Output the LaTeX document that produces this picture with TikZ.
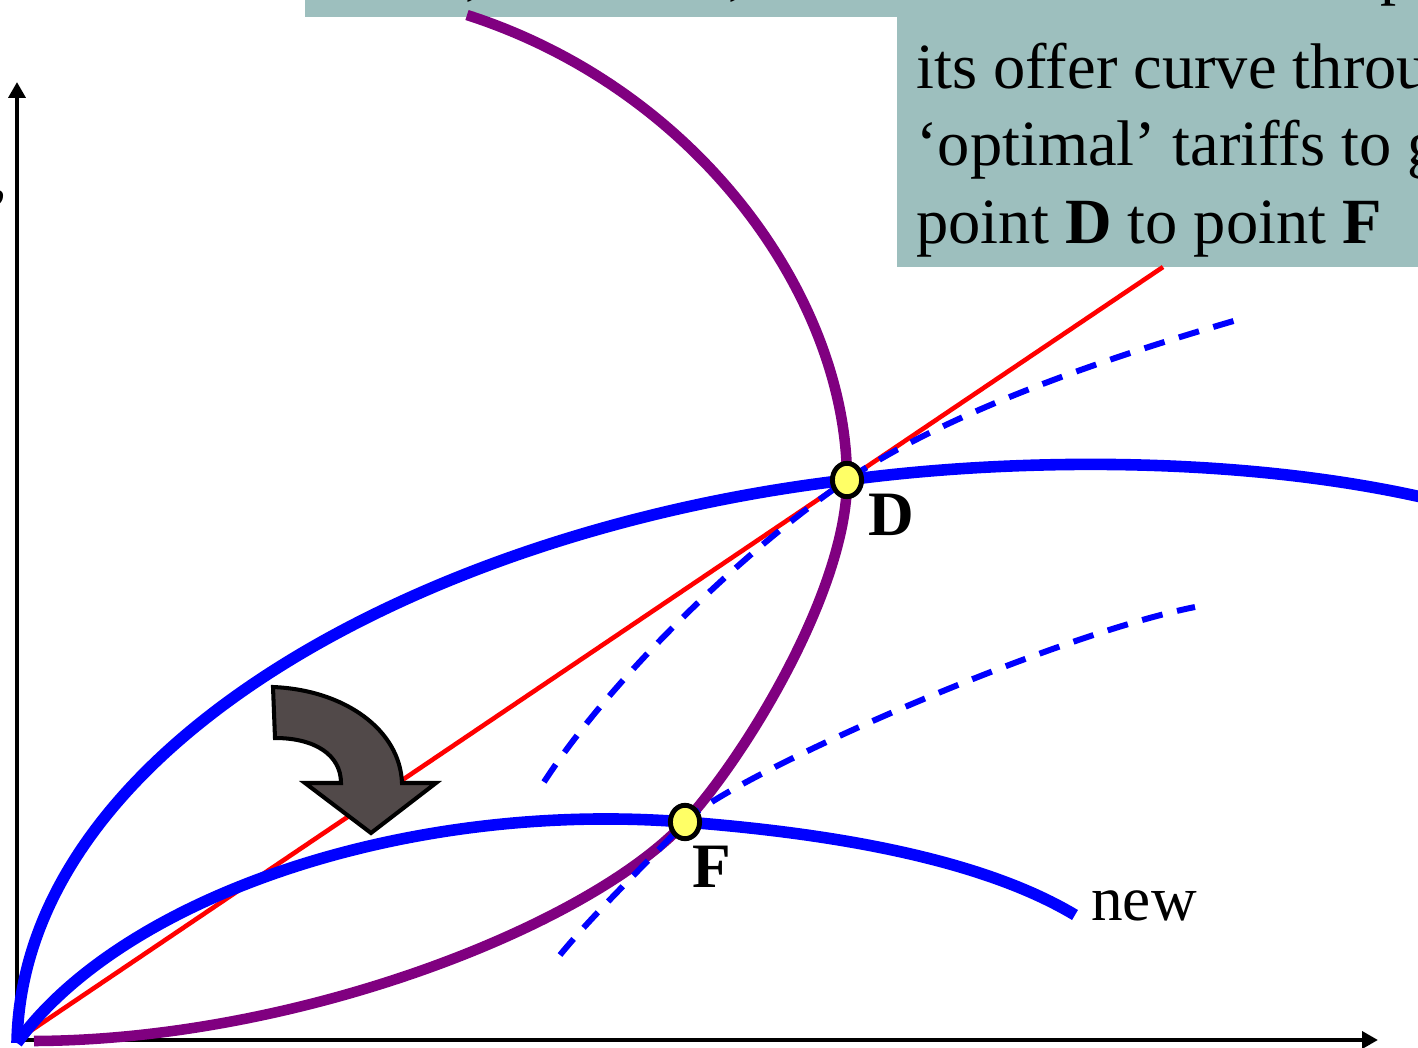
\documentclass[tikz,border=0pt]{standalone}
\usepackage{fontspec}
\setmainfont{Liberation Serif}
\usetikzlibrary{arrows.meta,shapes.geometric}
\definecolor{boxcol}{RGB}{157,191,190}
\definecolor{offblue}{RGB}{0,0,255}
\definecolor{offpurple}{RGB}{128,0,128}
\definecolor{offred}{RGB}{255,0,0}
\definecolor{arrowfill}{RGB}{81,73,73}
\definecolor{ptyellow}{RGB}{255,255,102}
\tikzset{
  axisline/.style={line width=2.8pt,-{Triangle[length=9pt,width=9.5pt]}},
  offerA/.style={offblue,line width=6.6pt},
  offerB/.style={offpurple,line width=6pt},
  tot/.style={offred,line width=2.6pt},
  indiff/.style={offblue,line width=3.4pt,dash pattern=on 12pt off 8.5pt},
  eqpt/.style={ellipse,draw=black,fill=ptyellow,line width=2.8pt,minimum width=16.6pt,minimum height=19pt,inner sep=0pt},
  ptlabel/.style={font=\fontsize{36pt}{40pt}\selectfont\bfseries,anchor=base west,inner sep=0pt},
  boxtext/.style={font=\fontsize{36.7pt}{44pt}\selectfont,anchor=base west,inner sep=0pt},
  bigarrow/.style={fill=arrowfill,draw=black,line width=2.3pt,line join=miter}
}
\begin{document}
\begin{tikzpicture}[x=0.02cm,y=-0.02cm]
\useasboundingbox (0,0) rectangle (1418,1048);
\begin{scope}
\clip (0,0) rectangle (1418,1048);
% text box
\fill[boxcol] (305,0) rectangle (1418,17);
\fill[boxcol] (897,0) rectangle (1418,267);
\node[boxtext] (t0a) at (465,-8) {,};
\node[boxtext] (t0b) at (728,-8) {,};
\node[boxtext] (t0c) at (1380,-8) {p};
\node[boxtext] (l1) at (916,88) {its offer curve through};
\node[boxtext] (l2) at (916,165) {‘optimal’ tariffs to go};
\node[boxtext] (l3) at (916,243) {point \textbf{D} to point \textbf{F}};
\node[boxtext] (yl) at (-9,197) {,};
% coordinates
\coordinate (O) at (17,1040);
\coordinate (ytip) at (17,82);
\coordinate (xtip) at (1378,1040);
\coordinate (Dp) at (847,480);
\coordinate (Fp) at (685,822);
\coordinate (redend) at (1163,267);
\coordinate (pA) at (34,1041);
\coordinate (pTop) at (467,15);
\coordinate (bO) at (17,1043);
\coordinate (bEnd) at (1430,499);
\coordinate (nEnd) at (1075,915);
\coordinate (uA) at (544,782);
\coordinate (uB) at (1237,320);
\coordinate (wA) at (560,955);
\coordinate (wB) at (1195,607);
% axes
\draw[axisline] (O) -- (ytip);
\draw[axisline] (O) -- (xtip);
% purple offer curve
\draw[offerB] (pA) .. controls (300,1040) and (590,925) .. (Fp)
  .. controls (745,757) and (847,590) .. (Dp)
  .. controls (847,300) and (700,90) .. (pTop);
% red terms of trade line
\draw[tot] (O) -- (Dp) -- (redend);
% blue offer curves
\draw[offerA] (bO) .. controls (22,750) and (420,530) .. (Dp)
  .. controls (1010,458) and (1240,455) .. (bEnd);
\draw[offerA] (bO) .. controls (120,900) and (400,800) .. (Fp)
  .. controls (815,832) and (975,855) .. (nEnd);
% indifference curves
\draw[indiff] (uA) .. controls (610,680) and (740,553) .. (Dp)
  .. controls (957,406) and (1127,352) .. (uB);
\draw[indiff] (wA) .. controls (595,912) and (650,860) .. (Fp)
  .. controls (725,779) and (1045,637) .. (wB);
% curved arrow
\draw[bigarrow] (273,687) .. controls (345,690) and (400,730) .. (402,783)
  -- (436,783) -- (371,833) -- (305,783) -- (341,783)
  .. controls (341,755) and (315,738) .. (275,738) -- cycle;
% points
\node[eqpt] (D) at (Dp) {};
\node[eqpt] (F) at (Fp) {};
\node[ptlabel] (Dl) at (868,535) {D};
\node[ptlabel] (Fl) at (692,887) {F};
\node[boxtext,font=\fontsize{36pt}{40pt}\selectfont] (newl) at (1091,920) {new};
\end{scope}
\end{tikzpicture}
\end{document}
